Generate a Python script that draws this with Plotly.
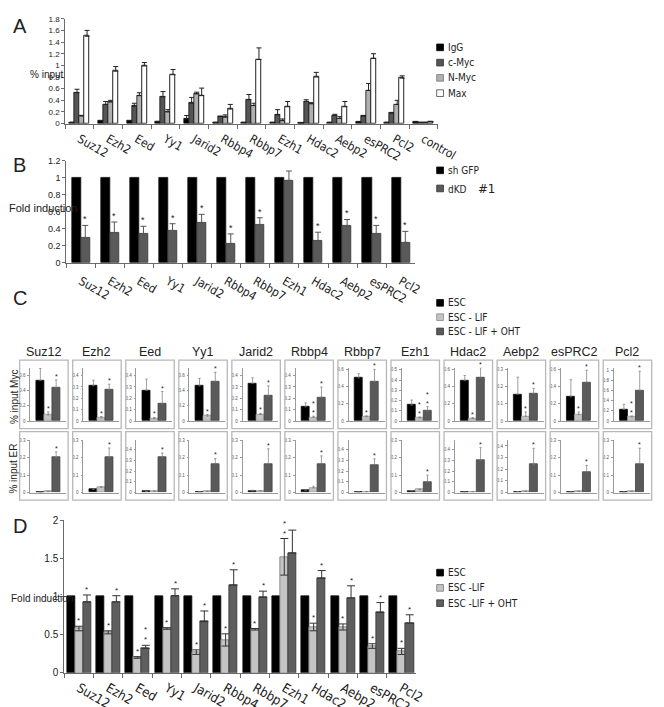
import plotly.graph_objects as go

W, H = 664, 707
FONT_N = "Liberation Sans Narrow, Arial Narrow, DejaVu Sans Condensed, Liberation Sans, Arial, sans-serif"
FONT_R = "Liberation Sans, Arial, Helvetica, sans-serif"
TXT = "#222222"

# ---------------- data ----------------
# Panel A
a_genes = ["Suz12", "Ezh2", "Eed", "Yy1", "Jarid2", "Rbbp4", "Rbbp7", "Ezh1", "Hdac2", "Aebp2", "esPRC2", "Pcl2", "control"]
a_series = ["IgG", "c-Myc", "N-Myc", "Max"]
a_igg = [0.02, 0.05, 0.05, 0.03, 0.08, 0.02, 0.02, 0.02, 0.01, 0.02, 0.03, 0.02, 0.03]
a_igg_err = [0.005, 0.005, 0.005, 0.01, 0.06, 0.005, 0.005, 0.005, 0.005, 0.005, 0.005, 0.005, 0.005]
a_cmyc = [0.53, 0.33, 0.30, 0.46, 0.35, 0.12, 0.41, 0.15, 0.38, 0.14, 0.13, 0.18, 0.02]
a_cmyc_err = [0.06, 0.05, 0.05, 0.09, 0.10, 0.01, 0.09, 0.09, 0.03, 0.02, 0.005, 0.005, 0.005]
a_nmyc = [0.13, 0.37, 0.48, 0.20, 0.51, 0.11, 0.31, 0.05, 0.34, 0.09, 0.57, 0.33, 0.02]
a_nmyc_err = [0.01, 0.03, 0.05, 0.04, 0.03, 0.04, 0.04, 0.03, 0.02, 0.03, 0.12, 0.07, 0.005]
a_max = [1.50, 0.90, 0.99, 0.84, 0.48, 0.25, 1.10, 0.29, 0.80, 0.29, 1.12, 0.78, 0.03]
a_max_err = [0.10, 0.08, 0.06, 0.09, 0.13, 0.08, 0.20, 0.09, 0.08, 0.09, 0.08, 0.04, 0.005]

# Panel B
b_genes = ["Suz12", "Ezh2", "Eed", "Yy1", "Jarid2", "Rbbp4", "Rbbp7", "Ezh1", "Hdac2", "Aebp2", "esPRC2", "Pcl2"]
b_shgfp = [1, 1, 1, 1, 1, 1, 1, 1, 1, 1, 1, 1]
b_dkd = [0.29, 0.35, 0.34, 0.38, 0.47, 0.22, 0.45, 0.97, 0.26, 0.43, 0.34, 0.24]
b_dkd_err = [0.15, 0.13, 0.09, 0.08, 0.10, 0.12, 0.08, 0.11, 0.10, 0.08, 0.10, 0.13]
b_stars = ["*", "*", "*", "*", "*", "*", "*", "", "*", "*", "*", "*"]

# Panel C
c_genes = ["Suz12", "Ezh2", "Eed", "Yy1", "Jarid2", "Rbbp4", "Rbbp7", "Ezh1", "Hdac2", "Aebp2", "esPRC2", "Pcl2"]
c_series = ["ESC", "ESC - LIF", "ESC - LIF + OHT"]
# % input Myc
c_myc_esc = [0.53, 0.31, 0.27, 0.46, 0.33, 0.125, 0.50, 0.155, 0.47, 0.155, 0.28, 0.23]
c_myc_esc_err = [0.16, 0.05, 0.10, 0.10, 0.05, 0.035, 0.05, 0.05, 0.06, 0.10, 0.20, 0.10]
c_myc_lif = [0.08, 0.027, 0.022, 0.065, 0.058, 0.033, 0.05, 0.03, 0.03, 0.028, 0.075, 0.08]
c_myc_lif_err = [0.04, 0.013, 0.01, 0.02, 0.01, 0.01, 0.01, 0.01, 0.01, 0.025, 0.03, 0.02]
c_myc_oht = [0.44, 0.275, 0.15, 0.52, 0.22, 0.21, 0.46, 0.10, 0.50, 0.16, 0.45, 0.60]
c_myc_oht_err = [0.10, 0.05, 0.11, 0.12, 0.09, 0.09, 0.14, 0.04, 0.12, 0.03, 0.14, 0.38]
c_myc_ymax = [0.7, 0.47, 0.47, 0.7, 0.47, 0.47, 0.62, 0.52, 0.62, 0.31, 0.62, 1.05]
c_myc_dtick = [0.2, 0.1, 0.1, 0.2, 0.1, 0.1, 0.2, 0.1, 0.2, 0.1, 0.2, 0.2]
c_myc_lif_stars = ["*", "*", "*", "*", "*", "*<br>*", "*", "*<br>*", "*", "*", "*", "*<br>*"]
c_myc_oht_stars = ["*", "*", "*", "*", "*", "*", "*", "*<br>*", "*", "*", "*", "*"]
# % input ER
c_er_esc = [0.002, 0.018, 0.01, 0.004, 0.01, 0.013, 0.005, 0.009, 0.005, 0.008, 0.003, 0.003]
c_er_esc_err = [0.001, 0.002, 0.002, 0.001, 0.003, 0.002, 0.001, 0.002, 0.001, 0.001, 0.001, 0.001]
c_er_lif = [0.006, 0.03, 0.012, 0.006, 0.01, 0.027, 0.008, 0.017, 0.008, 0.01, 0.006, 0.006]
c_er_lif_err = [0.002, 0.003, 0.002, 0.002, 0.002, 0.009, 0.002, 0.003, 0.002, 0.002, 0.002, 0.002]
c_er_oht = [0.20, 0.20, 0.33, 0.164, 0.164, 0.164, 0.26, 0.06, 0.30, 0.24, 0.118, 0.164]
c_er_oht_err = [0.033, 0.055, 0.04, 0.031, 0.086, 0.046, 0.055, 0.04, 0.12, 0.14, 0.037, 0.09]
c_er_ymax = [0.3, 0.3, 0.49, 0.3, 0.3, 0.3, 0.49, 0.3, 0.49, 0.45, 0.3, 0.3]
c_er_dtick = [0.1, 0.1, 0.1, 0.1, 0.1, 0.1, 0.1, 0.1, 0.1, 0.1, 0.1, 0.1]

# Panel D
d_genes = ["Suz12", "Ezh2", "Eed", "Yy1", "Jarid2", "Rbbp4", "Rbbp7", "Ezh1", "Hdac2", "Aebp2", "esPRC2", "Pcl2"]
d_series = ["ESC", "ESC -LIF", "ESC -LIF + OHT"]
d_esc = [1, 1, 1, 1, 1, 1, 1, 1, 1, 1, 1, 1]
d_lif = [0.58, 0.53, 0.20, 0.58, 0.27, 0.43, 0.57, 1.52, 0.60, 0.60, 0.35, 0.28]
d_lif_err = [0.03, 0.02, 0.01, 0.01, 0.03, 0.08, 0.01, 0.24, 0.05, 0.04, 0.03, 0.04]
d_oht = [0.93, 0.93, 0.32, 1.01, 0.67, 1.15, 0.99, 1.57, 1.24, 0.98, 0.79, 0.65]
d_oht_err = [0.09, 0.08, 0.04, 0.09, 0.14, 0.20, 0.08, 0.30, 0.10, 0.16, 0.13, 0.11]
d_lif_stars = ["*", "*", "*", "*", "*", "*", "*", "*<br>*", "*", "*", "*", "*"]
d_oht_stars = ["*", "*", "*<br>*", "*", "*", "*", "*", "", "*", "*", "*", "*"]

# ---------------- helpers ----------------
def px(x):
    return x / W

def py(y):
    return 1 - y / H

fig = go.Figure()
layout_axes = {}
annotations = []
shapes = []
axis_counter = [0]


def new_axes(xdom, ydom, xopts, yopts):
    axis_counter[0] += 1
    n = axis_counter[0]
    sfx = "" if n == 1 else str(n)
    layout_axes["xaxis" + sfx] = dict(domain=[px(xdom[0]), px(xdom[1])], anchor="y" + sfx, **xopts)
    layout_axes["yaxis" + sfx] = dict(domain=[py(ydom[1]), py(ydom[0])], anchor="x" + sfx, **yopts)
    return "x" + sfx, "y" + sfx


def add_bars(xa, ya, cats, series, w, err_col, err_th, err_w):
    n = len(series)
    for k, s in enumerate(series):
        off = -n * w / 2 + k * w
        ey = None
        if s.get("err") is not None:
            ey = dict(type="data", array=s["err"], visible=True, color=err_col,
                      thickness=err_th, width=err_w)
            if not s.get("sym", False):
                ey["symmetric"] = False
                ey["arrayminus"] = [0] * len(s["err"])
        fig.add_trace(go.Bar(
            x=cats, y=s["y"], width=[w] * len(cats), offset=[off] * len(cats),
            marker=dict(color=s["color"], line=dict(color=s.get("line", "#111"), width=s.get("lw", 0.8))),
            error_y=ey, name=s["name"], showlegend=False, xaxis=xa, yaxis=ya,
            hoverinfo="x+y"))


def add_stars(xa, ya, cats, vals, errs, stars, k, n, w, size, yshift=-1):
    for i in range(len(cats)):
        if not stars[i]:
            continue
        annotations.append(dict(
            x=i - n * w / 2 + (k + 0.5) * w, y=vals[i] + errs[i], xref=xa, yref=ya,
            text=stars[i], showarrow=False, yanchor="bottom", xanchor="center",
            yshift=yshift, font=dict(size=size, color=TXT, family=FONT_R)))


def legend_block(x, ys, labels, fills, lines, size=10):
    for y, lab, f, l in zip(ys, labels, fills, lines):
        shapes.append(dict(type="rect", xref="paper", yref="paper",
                           x0=px(x), x1=px(x + 7), y0=py(y + 3.5), y1=py(y - 3.5),
                           fillcolor=f, line=dict(color=l, width=0.8)))
        annotations.append(dict(x=px(x + 10), y=py(y), xref="paper", yref="paper",
                                text=lab, showarrow=False, xanchor="left", yanchor="middle",
                                font=dict(size=size, color=TXT, family=FONT_N)))


def label(text, x, y, size, angle=0, family=FONT_R):
    annotations.append(dict(x=px(x), y=py(y), xref="paper", yref="paper", text=text,
                            showarrow=False, xanchor="center", yanchor="middle",
                            textangle=angle, font=dict(size=size, color=TXT, family=family)))


AXC = "#6a6a6a"


def main_x(ncat, size=11, standoff=3):
    return dict(type="category", range=[-0.5, ncat - 0.5], showline=True, linecolor=AXC, linewidth=1,
                ticks="outside", tickson="boundaries", ticklen=4, tickcolor=AXC,
                tickfont=dict(size=size, color=TXT, family=FONT_N), showgrid=False, zeroline=False,
                ticklabelstandoff=standoff, fixedrange=True)


def main_y(rng, dtick, size=9):
    return dict(range=rng, dtick=dtick, showline=True, linecolor=AXC, linewidth=1, ticks="outside",
                ticklen=3, tickcolor=AXC, tickfont=dict(size=size, color=TXT, family=FONT_R),
                showgrid=False, zeroline=False, fixedrange=True)


# ---------------- Panel A ----------------
xa, ya = new_axes((59, 443), (5, 115), main_x(13, 12, 3), main_y([0, 1.8], 0.2, 8))
add_bars(xa, ya, a_genes, [
    dict(name=a_series[0], y=a_igg, err=a_igg_err, color="#000000"),
    dict(name=a_series[1], y=a_cmyc, err=a_cmyc_err, color="#555555"),
    dict(name=a_series[2], y=a_nmyc, err=a_nmyc_err, color="#b0b0b0"),
    dict(name=a_series[3], y=a_max, err=a_max_err, color="#ffffff", line="#222", lw=1),
], 0.175, "#222", 1, 2.5)
label("A", 12, 13, 20)
label("% input", 40, 63, 10)
legend_block(442, [35, 51, 67, 83], a_series, ["#000", "#555", "#b0b0b0", "#fff"], ["#000", "#333", "#777", "#444"])

# ---------------- Panel B ----------------
xa, ya = new_axes((60, 420), (154, 261), main_x(12, 12, 6), main_y([0, 1.2], 0.2, 9))
add_bars(xa, ya, b_genes, [
    dict(name="sh GFP", y=b_shgfp, err=None, color="#000000"),
    dict(name="dKD #1", y=b_dkd, err=b_dkd_err, color="#5a5a5a", line="#333"),
], 0.31, "#555", 1, 3)
add_stars(xa, ya, b_genes, b_dkd, b_dkd_err, b_stars, 1, 2, 0.31, 9)
label("B", 12, 158, 20)
label("Fold induction", 37, 203, 11)
legend_block(442, [164, 183], ["sh GFP", "dKD&nbsp;&nbsp;&nbsp;&nbsp;<span style='font-size:13px'>#1</span>"],
             ["#000", "#5a5a5a"], ["#000", "#333"])

# ---------------- Panel C ----------------
label("C", 12, 298, 20)
legend_block(442, [303, 318, 333], c_series, ["#000", "#c4c4c4", "#5a5a5a"], ["#000", "#888", "#333"])
label("% input Myc", 6, 402, 10, -90)
label("% input ER", 6, 477, 10, -90)

SMC = "#9a9a9a"
cw = 0.22
for i, g in enumerate(c_genes):
    x0 = 12 + 54.7 * i
    label(g, x0 + 25, 355, 12.5)
    rows = [
        ((363, 435), (371, 427), c_myc_ymax[i], c_myc_dtick[i],
         [c_myc_esc[i], c_myc_lif[i], c_myc_oht[i]],
         [c_myc_esc_err[i], c_myc_lif_err[i], c_myc_oht_err[i]],
         ["", c_myc_lif_stars[i], c_myc_oht_stars[i]]),
        ((438, 510), (447, 502), c_er_ymax[i], c_er_dtick[i],
         [c_er_esc[i], c_er_lif[i], c_er_oht[i]],
         [c_er_esc_err[i], c_er_lif_err[i], c_er_oht_err[i]],
         ["", "", "*"]),
    ]
    for box, pdom, ymax, dt, vals, errs, stars in rows:
        shapes.append(dict(type="rect", xref="paper", yref="paper", x0=px(x0), x1=px(x0 + 50),
                           y0=py(box[1]), y1=py(box[0]), line=dict(color="#b8b8b8", width=1.3)))
        xo = dict(type="category", range=[-0.5, 0.5], showline=True, linecolor=SMC, linewidth=0.7,
                  showticklabels=False, ticks="", showgrid=False, zeroline=False, fixedrange=True)
        yo = dict(range=[0, ymax], dtick=dt, showline=True, linecolor=SMC, linewidth=0.7, ticks="outside",
                  ticklen=2, tickwidth=0.6, tickcolor=SMC, tickfont=dict(size=4.5, color="#555", family=FONT_R),
                  showgrid=False, zeroline=False, fixedrange=True, ticklabelstandoff=1)
        xa, ya = new_axes((x0 + 11, x0 + 48), pdom, xo, yo)
        add_bars(xa, ya, [g], [
            dict(name=c_series[0], y=[vals[0]], err=[errs[0]], color="#000000"),
            dict(name=c_series[1], y=[vals[1]], err=[errs[1]], color="#c4c4c4", line="#999"),
            dict(name=c_series[2], y=[vals[2]], err=[errs[2]], color="#5a5a5a", line="#444"),
        ], cw, "#777", 0.7, 1.2)
        for k in range(3):
            add_stars(xa, ya, [g], [vals[k]], [errs[k]], [stars[k]], k, 3, cw, 7, yshift=-2)

# ---------------- Panel D ----------------
xa, ya = new_axes((58, 421), (531, 691), main_x(12, 13, 2), main_y([0, 2], 0.5, 10))
add_bars(xa, ya, d_genes, [
    dict(name=d_series[0], y=d_esc, err=None, color="#000000"),
    dict(name=d_series[1], y=d_lif, err=d_lif_err, color="#c4c4c4", line="#777", sym=True),
    dict(name=d_series[2], y=d_oht, err=d_oht_err, color="#5e5e5e", line="#333"),
], 0.275, "#333", 1, 4)
add_stars(xa, ya, d_genes, d_lif, d_lif_err, d_lif_stars, 1, 3, 0.275, 8, yshift=-1)
add_stars(xa, ya, d_genes, d_oht, d_oht_err, d_oht_stars, 2, 3, 0.275, 8, yshift=-1)
label("D", 12, 537, 20)
label("Fold induction", 35, 613, 10)
legend_block(442, [586, 602, 618], d_series, ["#000", "#c4c4c4", "#5e5e5e"], ["#000", "#777", "#333"])

fig.update_layout(
    width=W, height=H, autosize=False,
    margin=dict(l=0, r=0, t=0, b=0, pad=0),
    paper_bgcolor="white", plot_bgcolor="white",
    showlegend=False, barmode="overlay", bargap=0,
    font=dict(family=FONT_R, color=TXT),
    annotations=annotations, shapes=shapes,
    **layout_axes,
)

fig.write_html("out.html")
